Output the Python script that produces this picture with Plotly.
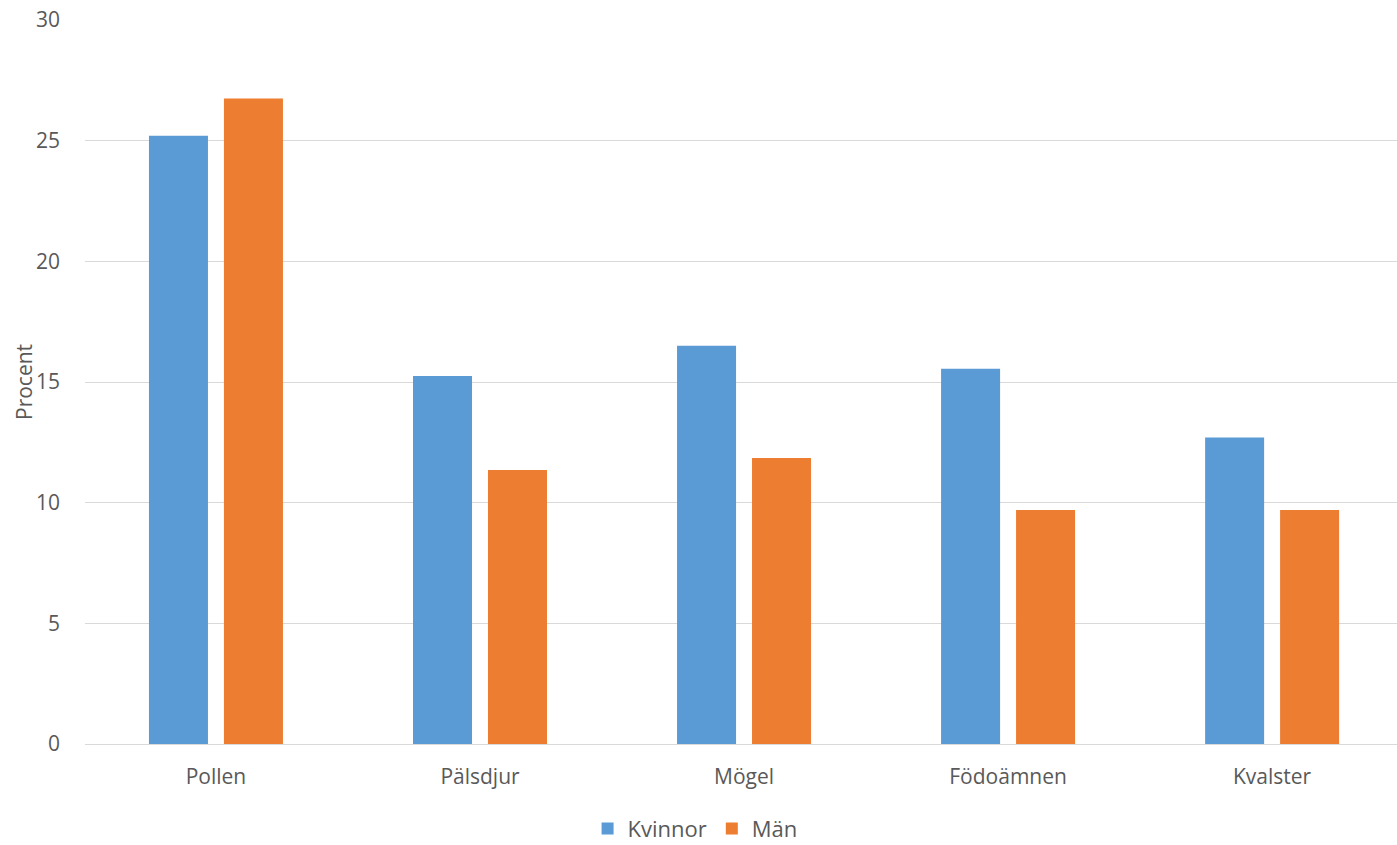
import plotly.graph_objects as go

categories = ["Pollen", "Pälsdjur", "Mögel", "Födoämnen", "Kvalster"]
kvinnor = [25.2, 15.25, 16.5, 15.55, 12.7]
man = [26.75, 11.35, 11.85, 9.7, 9.7]
y_ticks = [0, 5, 10, 15, 20, 25, 30]

FONT = "Open Sans"
GREY = "#595959"

fig = go.Figure()
fig.add_trace(go.Bar(name="Kvinnor", x=categories, y=kvinnor, marker_color="#5B9BD5",
                     marker_line_width=0))
fig.add_trace(go.Bar(name="Män", x=categories, y=man, marker_color="#ED7D31",
                     marker_line_width=0))

fig.update_layout(
    width=1397, height=845,
    margin=dict(l=85, r=0, t=20, b=101, autoexpand=False),
    paper_bgcolor="white", plot_bgcolor="white",
    barmode="group", bargap=0.432, bargroupgap=0.213,
    font=dict(family=FONT, size=21, color=GREY),
    legend=dict(orientation="h", x=0.465, xanchor="center", y=-0.088, yanchor="top",
                font=dict(size=22, color=GREY), itemwidth=30, traceorder="normal"),
    xaxis=dict(showgrid=False, showline=True, linecolor="#D9D9D9", linewidth=1,
               ticks="", tickfont=dict(size=21, color=GREY), automargin=False,
               ticklabelstandoff=14, range=[-0.496, 4.473]),
    yaxis=dict(range=[0, 30], tickvals=y_ticks, showgrid=True, gridcolor="#D9D9D9",
               gridwidth=1, zeroline=False, ticks="", ticklen=0, automargin=False,
               tickfont=dict(size=21, color=GREY), ticklabelstandoff=24),
    annotations=[dict(text="Procent", xref="paper", yref="paper", x=-0.0465, y=0.5,
                      xanchor="center", yanchor="middle", textangle=-90,
                      showarrow=False, font=dict(size=21, color=GREY, family=FONT))],
)

fig.write_html("out.html", config={"displayModeBar": False},
               post_script="document.body.style.margin='0';document.body.style.overflow='hidden';")
